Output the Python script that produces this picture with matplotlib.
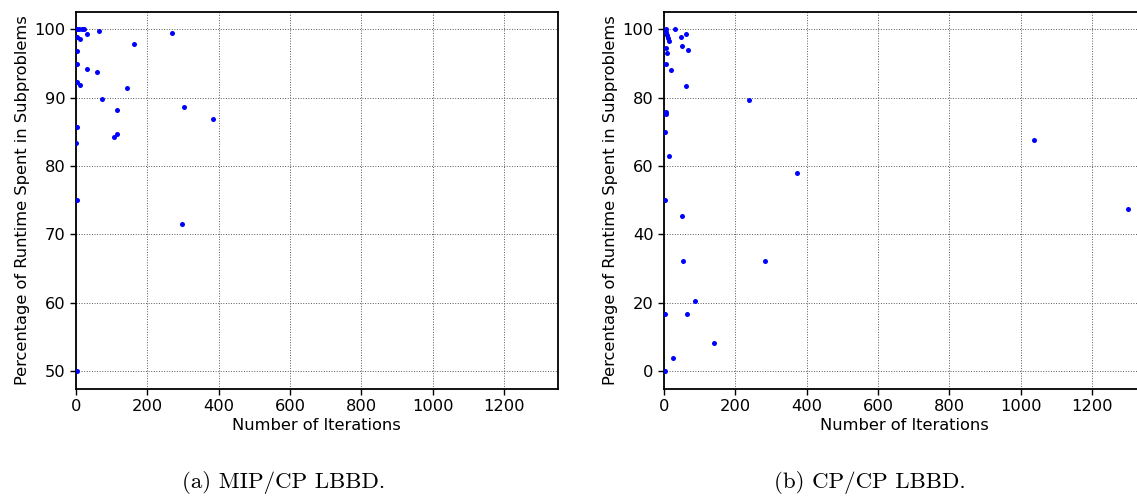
import matplotlib
matplotlib.use("Agg")
import matplotlib.pyplot as plt

# Panel (a): MIP/CP LBBD
left_iters = [0, 2, 9, 16, 22, 32, 64, 268, 4, 11, 162, 3, 3, 32, 59, 3, 10, 142,
              74, 303, 385, 2, 116, 116, 107, 1, 2, 297, 3]
left_pct = [100, 100, 100, 100, 100, 99.3, 99.7, 99.5, 98.8, 98.5, 97.8, 96.8, 94.9,
            94.2, 93.8, 92.3, 91.8, 91.4, 89.8, 88.6, 86.8, 85.7, 88.2, 84.7, 84.3,
            83.3, 75.0, 71.6, 50.0]

# Panel (b): CP/CP LBBD
right_iters = [5, 30, 61, 49, 7, 8, 10, 13, 51, 5, 67, 9, 5, 21, 62, 238, 5, 5, 4,
               13, 374, 4, 50, 52, 282, 88, 4, 65, 139, 24, 4, 1036, 1302]
right_pct = [100, 99.9, 98.7, 97.7, 99.1, 98.3, 97.5, 96.4, 95.1, 94.6, 93.9, 93.1,
             89.8, 88.1, 83.3, 79.2, 75.9, 75.2, 70.0, 62.8, 57.9, 50.0, 45.3, 32.3,
             32.3, 20.6, 16.7, 16.8, 8.4, 3.8, 0.0, 67.7, 47.4]

captions = ["(a) MIP/CP LBBD.", "(b) CP/CP LBBD."]
xlabel = "Number of Iterations"
ylabel = "Percentage of Runtime Spent in Subproblems"

W, H = 1137, 497
fig = plt.figure(figsize=(W / 100, H / 100), dpi=100)

def ax_at(l, t, r, b):
    return fig.add_axes([l / W, 1 - b / H, (r - l) / W, (b - t) / H])

ax1 = ax_at(76, 12, 557.5, 388.5)
ax2 = ax_at(664, 12, 1145.5, 388.5)

FS = 11.7
for ax, xs, ys in [(ax1, left_iters, left_pct), (ax2, right_iters, right_pct)]:
    ax.plot(xs, ys, 'o', color='blue', markersize=3.6, markeredgewidth=0, zorder=3)
    ax.set_xlim(0, 1350)
    ax.set_xticks([0, 200, 400, 600, 800, 1000, 1200])
    ax.grid(True, color='0.35', linestyle=':', linewidth=0.7)
    ax.set_axisbelow(True)
    ax.set_xlabel(xlabel, fontsize=FS, labelpad=3)
    ax.set_ylabel(ylabel, fontsize=FS, labelpad=3)
    ax.tick_params(labelsize=FS, width=1.0, length=4)
    for s in ax.spines.values():
        s.set_linewidth(1.3)

ax1.set_ylim(47.5, 102.5)
ax1.set_yticks([50, 60, 70, 80, 90, 100])
ax2.set_ylim(-5, 105)
ax2.set_yticks([0, 20, 40, 60, 80, 100])

fig.text(284 / W, 1 - 482 / H, captions[0], ha='center', va='center',
         fontsize=16.5, family=['cmr10', 'DejaVu Serif'])
fig.text(870 / W, 1 - 482 / H, captions[1], ha='center', va='center',
         fontsize=16.5, family=['cmr10', 'DejaVu Serif'])

fig.savefig("out.png", dpi=100)
